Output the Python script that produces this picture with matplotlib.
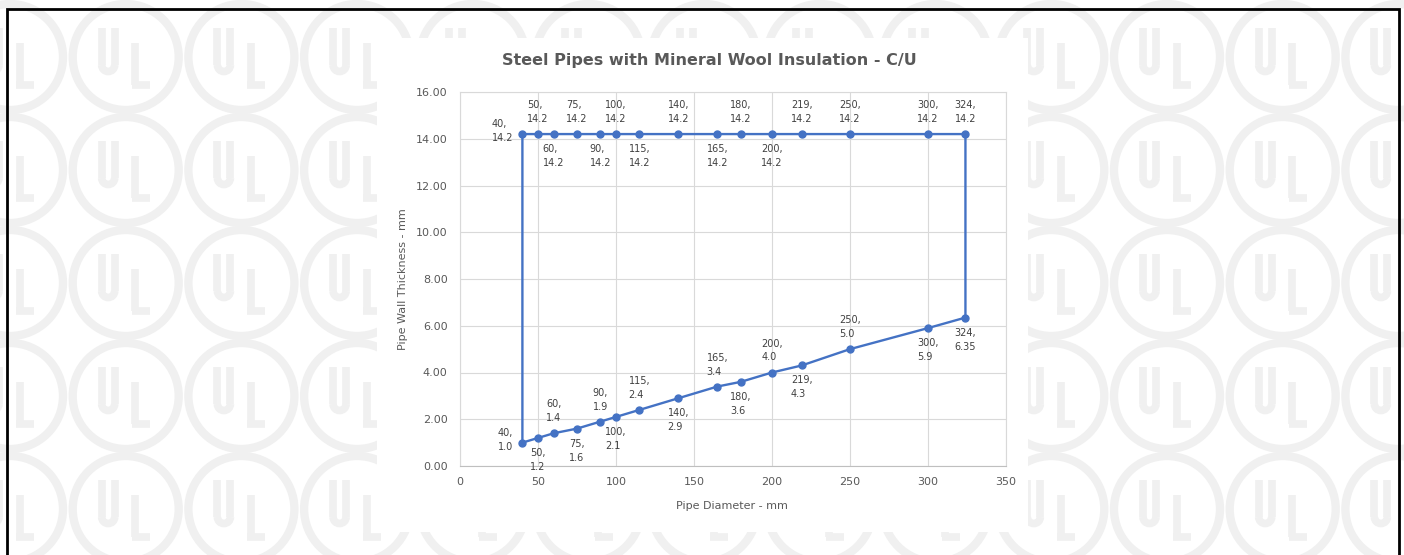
# Steel pipes with mineral wool insulation - C/U
# Excel-style scatter with lines, over a UL watermark background

import matplotlib
matplotlib.use("Agg")
import matplotlib.pyplot as plt
from matplotlib.patches import Circle, Rectangle, Arc

# ------------------------------------------------------------
# Data
# ------------------------------------------------------------
diameters = [40, 50, 60, 75, 90, 100, 115, 140, 165, 180, 200, 219, 250, 300, 324]
upper_thk = [14.2, 14.2, 14.2, 14.2, 14.2, 14.2, 14.2, 14.2, 14.2, 14.2, 14.2, 14.2, 14.2, 14.2, 14.2]
lower_thk = [1.0, 1.2, 1.4, 1.6, 1.9, 2.1, 2.4, 2.9, 3.4, 3.6, 4.0, 4.3, 5.0, 5.9, 6.35]

upper_pos = ["left", "above", "below", "above", "below", "above", "below", "above",
             "below", "above", "below", "above", "above", "above", "above"]
lower_pos = ["left", "below", "above", "below", "above", "below", "above", "below",
             "above", "below", "above", "below", "above", "below", "below"]

title = "Steel Pipes with Mineral Wool Insulation - C/U"
x_title = "Pipe Diameter - mm"
y_title = "Pipe Wall Thickness - mm"

BLUE = "#4472c4"
GRID = "#d9d9d9"
AXTXT = "#595959"
LBLTXT = "#404040"
WM = "#f0f0f0"

W, H = 1404, 555
fig = plt.figure(figsize=(W / 100, H / 100), dpi=100)
fig.patch.set_facecolor("white")

# ------------------------------------------------------------
# Background: UL watermark in pixel coordinates
# ------------------------------------------------------------
bg = fig.add_axes([0, 0, 1, 1])
bg.set_xlim(0, W)
bg.set_ylim(H, 0)
bg.axis("off")

col_step, row_step = 115.7, 113.0
for r in range(6):
    cy = 57 + r * row_step
    for c in range(13):
        cx = 10 + c * col_step
        bg.add_patch(Circle((cx, cy), 53, fill=False, ec=WM, lw=6, zorder=1))
        # U
        bg.plot([cx - 24, cx - 24], [cy - 29, cy + 8], color=WM, lw=5.5, solid_capstyle="butt", zorder=1)
        bg.plot([cx - 11, cx - 11], [cy - 29, cy + 8], color=WM, lw=5.5, solid_capstyle="butt", zorder=1)
        bg.add_patch(Arc((cx - 17.5, cy + 8), 13, 13, theta1=0, theta2=180, ec=WM, lw=5.5, zorder=1))
        # L
        bg.plot([cx + 9.5, cx + 9.5], [cy - 14, cy + 28], color=WM, lw=5.5, solid_capstyle="butt", zorder=1)
        bg.plot([cx + 6, cx + 24], [cy + 28, cy + 28], color=WM, lw=5.5, solid_capstyle="butt", zorder=1)

# white chart area
bg.add_patch(Rectangle((377, 38), 651, 494, fc="white", ec="none", zorder=2))

# black frame (open at the bottom)
bg.plot([7, 7, 1398.5, 1398.5], [H + 5, 8.5, 8.5, H + 5], color="black", lw=2, zorder=3,
        solid_joinstyle="miter", clip_on=False)

# ------------------------------------------------------------
# Plot area
# ------------------------------------------------------------
left, right, top, bottom = 460, 1006, 92, 466
ax = fig.add_axes([left / W, 1 - bottom / H, (right - left) / W, (bottom - top) / H])
ax.set_facecolor("none")
ax.set_xlim(0, 350)
ax.set_ylim(0, 16)
ax.set_xticks(range(0, 351, 50))
ax.set_yticks(range(0, 17, 2))
ax.yaxis.set_major_formatter(matplotlib.ticker.FormatStrFormatter("%.2f"))
ax.grid(True, color=GRID, lw=0.8)
ax.set_axisbelow(True)
for s in ax.spines.values():
    s.set_color(GRID)
    s.set_linewidth(0.8)
ax.spines["bottom"].set_color("#bfbfbf")
ax.tick_params(length=0, labelsize=8, labelcolor=AXTXT)
ax.tick_params(axis="y", pad=9)
ax.tick_params(axis="x", pad=8)

# closed outline: along the top, down at 324, back along the bottom, up at 40
path_x = diameters + diameters[::-1] + [diameters[0]]
path_y = upper_thk + lower_thk[::-1] + [upper_thk[0]]
ax.plot(path_x, path_y, color=BLUE, lw=1.7, zorder=3)
ax.plot(diameters + diameters, upper_thk + lower_thk, "o", color=BLUE, ms=5, zorder=4)

# data labels
offsets = {"above": (0, 22, "center"), "below": (0, -22, "center"), "left": (-9, 3, "right")}


def put_labels(xs, ys, positions):
    for x, y, p in zip(xs, ys, positions):
        dx, dy, ha = offsets[p]
        ax.annotate(f"{x},\n{y}", (x, y), xytext=(dx, dy), textcoords="offset pixels",
                    ha=ha, va="center", multialignment="left", fontsize=7,
                    color=LBLTXT, linespacing=1.5, zorder=5)


put_labels(diameters, upper_thk, upper_pos)
put_labels(diameters, lower_thk, lower_pos)

ax.set_xlabel(x_title, fontsize=8, color=AXTXT, va="center")
ax.xaxis.set_label_coords((732 - left) / (right - left), -(506 - bottom) / (bottom - top))
ax.set_ylabel(y_title, fontsize=8, color=AXTXT, va="center")
ax.yaxis.set_label_coords(-(left - 403) / (right - left), 0.5)

fig.text(709 / W, 1 - 61 / H, title, ha="center", va="center", fontsize=11.5,
         fontweight="bold", color=AXTXT)

plt.savefig("out.png", dpi=100)
